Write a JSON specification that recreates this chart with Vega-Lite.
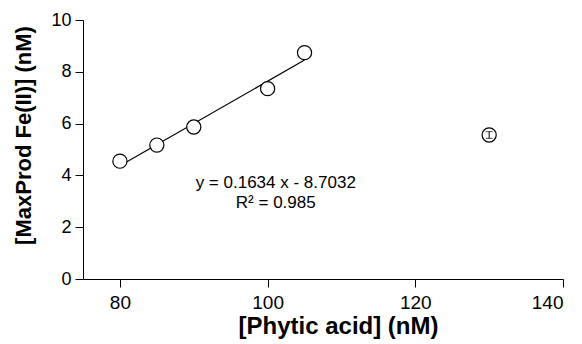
{
  "$schema": "https://vega.github.io/schema/vega-lite/v6.json",
  "width": 480,
  "height": 259,
  "autosize": {"type": "none"},
  "padding": {"left": 83, "top": 20, "right": 19, "bottom": 65},
  "background": "white",
  "config": {
    "view": {"stroke": null},
    "font": "Liberation Sans",
    "axis": {"grid": false, "domainColor": "black", "tickColor": "black", "labelColor": "black", "titleColor": "black", "labelFont": "Liberation Sans", "titleFont": "Liberation Sans", "domainWidth": 1, "tickWidth": 1}
  },
  "datasets": {
    "points": [
      {"x": 80, "y": 4.55, "err": 0},
      {"x": 85, "y": 5.17, "err": 0},
      {"x": 90, "y": 5.87, "err": 0},
      {"x": 100, "y": 7.35, "err": 0},
      {"x": 105, "y": 8.74, "err": 0},
      {"x": 130, "y": 5.56, "err": 0.13}
    ],
    "fit": [
      {"x": 80, "y": 4.369},
      {"x": 105, "y": 8.454}
    ],
    "labels": [
      {"x": 101.1, "y": 3.7, "text": "y = 0.1634 x - 8.7032"},
      {"x": 101.1, "y": 2.92, "text": "R² = 0.985"}
    ]
  },
  "layer": [
    {
      "data": {"name": "fit"},
      "mark": {"type": "line", "color": "black", "strokeWidth": 1.2},
      "encoding": {
        "x": {"field": "x", "type": "quantitative", "title": "[Phytic acid] (nM)", "scale": {"domain": [75, 140], "nice": false, "zero": false},
          "axis": {"values": [80, 100, 120, 140], "titleFontSize": 24, "titleFontWeight": "bold", "labelFontSize": 19, "tickSize": 8, "labelPadding": 6, "titleX": 255, "titleY": 47, "titleBaseline": "middle", "titleAlign": "center"}},
        "y": {"field": "y", "type": "quantitative", "title": "[MaxProd Fe(II)] (nM)", "scale": {"domain": [0, 10], "nice": false},
          "axis": {"values": [0, 2, 4, 6, 8, 10], "titleFontSize": 22, "titleFontWeight": "bold", "labelFontSize": 18, "tickSize": 8, "labelPadding": 4, "titleX": -60, "titleY": 115, "titleBaseline": "middle", "titleAlign": "center", "titleAngle": -90}}
      }
    },
    {
      "data": {"name": "points"},
      "mark": {"type": "point", "shape": "circle", "filled": false, "fill": "white", "fillOpacity": 1, "stroke": "black", "strokeWidth": 1.2, "size": 200, "opacity": 1},
      "encoding": {
        "x": {"field": "x", "type": "quantitative", "title": "[Phytic acid] (nM)"},
        "y": {"field": "y", "type": "quantitative", "title": "[MaxProd Fe(II)] (nM)"}
      }
    },
    {
      "data": {"name": "points"},
      "transform": [{"filter": "datum.err > 0"}, {"calculate": "datum.y - datum.err", "as": "lo"}, {"calculate": "datum.y + datum.err", "as": "hi"}],
      "mark": {"type": "errorbar", "ticks": {"size": 7, "color": "black"}, "color": "black", "thickness": 1},
      "encoding": {
        "x": {"field": "x", "type": "quantitative", "title": "[Phytic acid] (nM)"},
        "y": {"field": "lo", "type": "quantitative", "title": "[MaxProd Fe(II)] (nM)"},
        "y2": {"field": "hi"}
      }
    },
    {
      "data": {"name": "labels"},
      "mark": {"type": "text", "fontSize": 17, "align": "center", "baseline": "middle", "color": "black", "font": "Liberation Sans"},
      "encoding": {
        "x": {"field": "x", "type": "quantitative", "title": "[Phytic acid] (nM)"},
        "y": {"field": "y", "type": "quantitative", "title": "[MaxProd Fe(II)] (nM)"},
        "text": {"field": "text"}
      }
    }
  ]
}
